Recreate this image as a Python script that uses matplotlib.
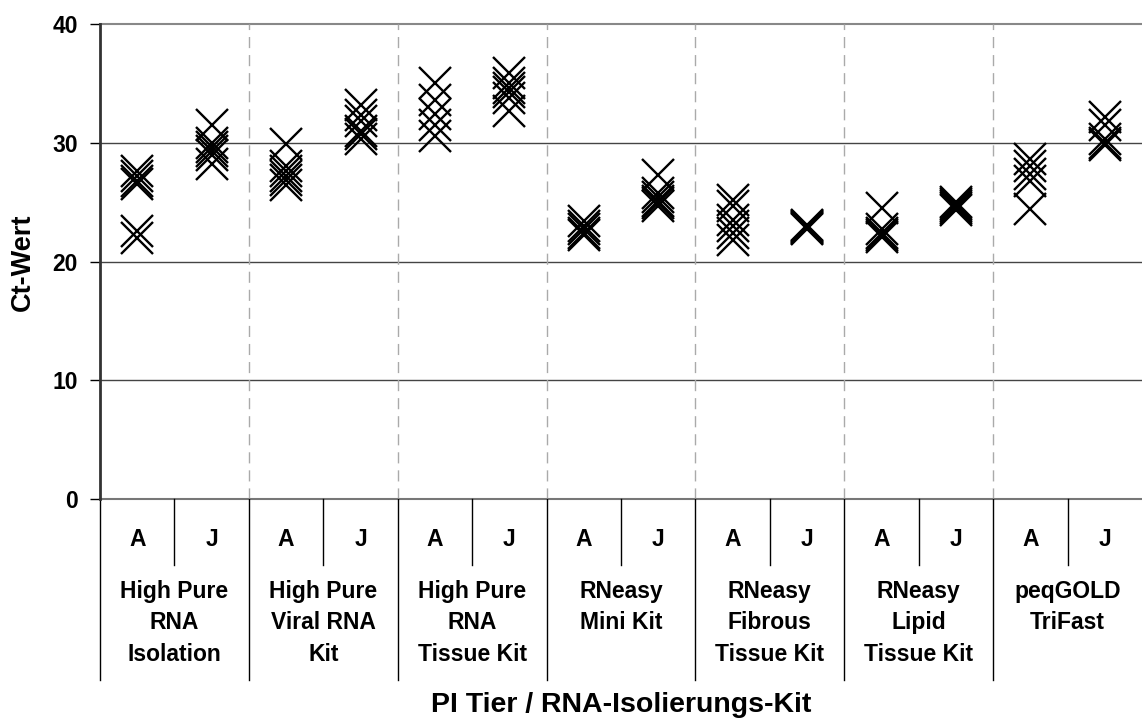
import numpy as np
import matplotlib
matplotlib.use('Agg')
import matplotlib.pyplot as plt

plt.rcParams['font.family'] = ['Liberation Sans', 'DejaVu Sans']
plt.rcParams['font.weight'] = 'bold'

# Kits and animals
kits = ['High Pure\nRNA\nIsolation', 'High Pure\nViral RNA\nKit', 'High Pure\nRNA\nTissue Kit',
        'RNeasy\nMini Kit', 'RNeasy\nFibrous\nTissue Kit', 'RNeasy\nLipid\nTissue Kit',
        'peqGOLD\nTriFast']
animals = ['A', 'J']

# Ct values per kit / animal
hp_iso_A = [27.6, 27.2, 26.8, 26.5, 22.6, 22.0]
hp_iso_J = [31.5, 30.0, 29.6, 29.3, 29.0, 28.2]
hp_viral_A = [29.9, 28.0, 27.6, 27.2, 26.9, 26.4]
hp_viral_J = [33.2, 32.3, 31.8, 31.0, 30.7, 30.3]
hp_tissue_A = [35.0, 33.6, 32.4, 31.5, 30.6]
hp_tissue_J = [35.9, 35.0, 34.6, 34.3, 33.8, 32.7]
mini_A = [23.4, 23.0, 22.7, 22.4, 22.2]
mini_J = [27.3, 25.8, 25.4, 25.1, 24.9, 24.7]
fibrous_A = [25.2, 24.7, 23.5, 23.0, 22.4, 21.8]
fibrous_J = [23.1, 23.0, 22.9, 22.8, 22.7]
lipid_A = [24.5, 22.7, 22.4, 22.2, 22.1]
lipid_J = [25.0, 24.8, 24.7, 24.5, 24.3]
trifast_A = [28.6, 28.0, 27.4, 26.8, 24.4]
trifast_J = [32.2, 31.5, 30.3, 30.0, 29.8]

columns = [hp_iso_A, hp_iso_J, hp_viral_A, hp_viral_J, hp_tissue_A, hp_tissue_J,
           mini_A, mini_J, fibrous_A, fibrous_J, lipid_A, lipid_J, trifast_A, trifast_J]

fig = plt.figure(figsize=(11.42, 7.2), dpi=100)
ax = fig.add_axes([0.0876, 0.3069, 0.9124, 0.6598])

for i, vals in enumerate(columns):
    ax.plot([i] * len(vals), vals, linestyle='none', marker='x', ms=23,
            mew=1.7, color='black', zorder=3)

ax.set_xlim(-0.5, 13.5)
ax.set_ylim(0, 40)
ax.set_yticks([0, 10, 20, 30, 40])
ax.set_xticks([])
ax.tick_params(axis='y', labelsize=16.5, length=7, width=1, pad=9)
for lab in ax.get_yticklabels():
    lab.set_fontweight('bold')

for v in [10, 20, 30]:
    ax.axhline(v, color='#444444', lw=1, zorder=1)
ax.axhline(40, color='#888888', lw=1.5, zorder=1, clip_on=False)
ax.axhline(0, color='#777777', lw=1.5, zorder=1, clip_on=False)
for k in range(1, 7):
    ax.axvline(2 * k - 0.5, color='#aaaaaa', lw=1, linestyle=(0, (8, 5)), zorder=1)

for s in ['top', 'right', 'bottom']:
    ax.spines[s].set_visible(False)
ax.spines['left'].set_linewidth(2)
ax.spines['left'].set_color('#333333')

# category table below the axes
tr = ax.get_xaxis_transform()
for k in range(7):
    ax.plot([2 * k - 0.5] * 2, [0, -0.381], color='black', lw=1, transform=tr, clip_on=False)
    ax.plot([2 * k + 0.5] * 2, [0, -0.139], color='black', lw=1, transform=tr, clip_on=False)
    ax.text(2 * k + 0.5, -0.170, kits[k], transform=tr, ha='center', va='top',
            fontsize=16.5, fontweight='bold', linespacing=1.47)
for i in range(14):
    ax.text(i, -0.086, animals[i % 2], transform=tr, ha='center', va='center',
            fontsize=16.5, fontweight='bold')

ax.text(0.5, -0.434, 'PI Tier / RNA-Isolierungs-Kit', transform=ax.transAxes,
        ha='center', va='center', fontsize=20.5, fontweight='bold')
fig.text(23 / 1142, 1 - 262 / 720, 'Ct-Wert', rotation=90, ha='center', va='center',
         fontsize=19.5, fontweight='bold')

fig.savefig('out.png', dpi=100)
